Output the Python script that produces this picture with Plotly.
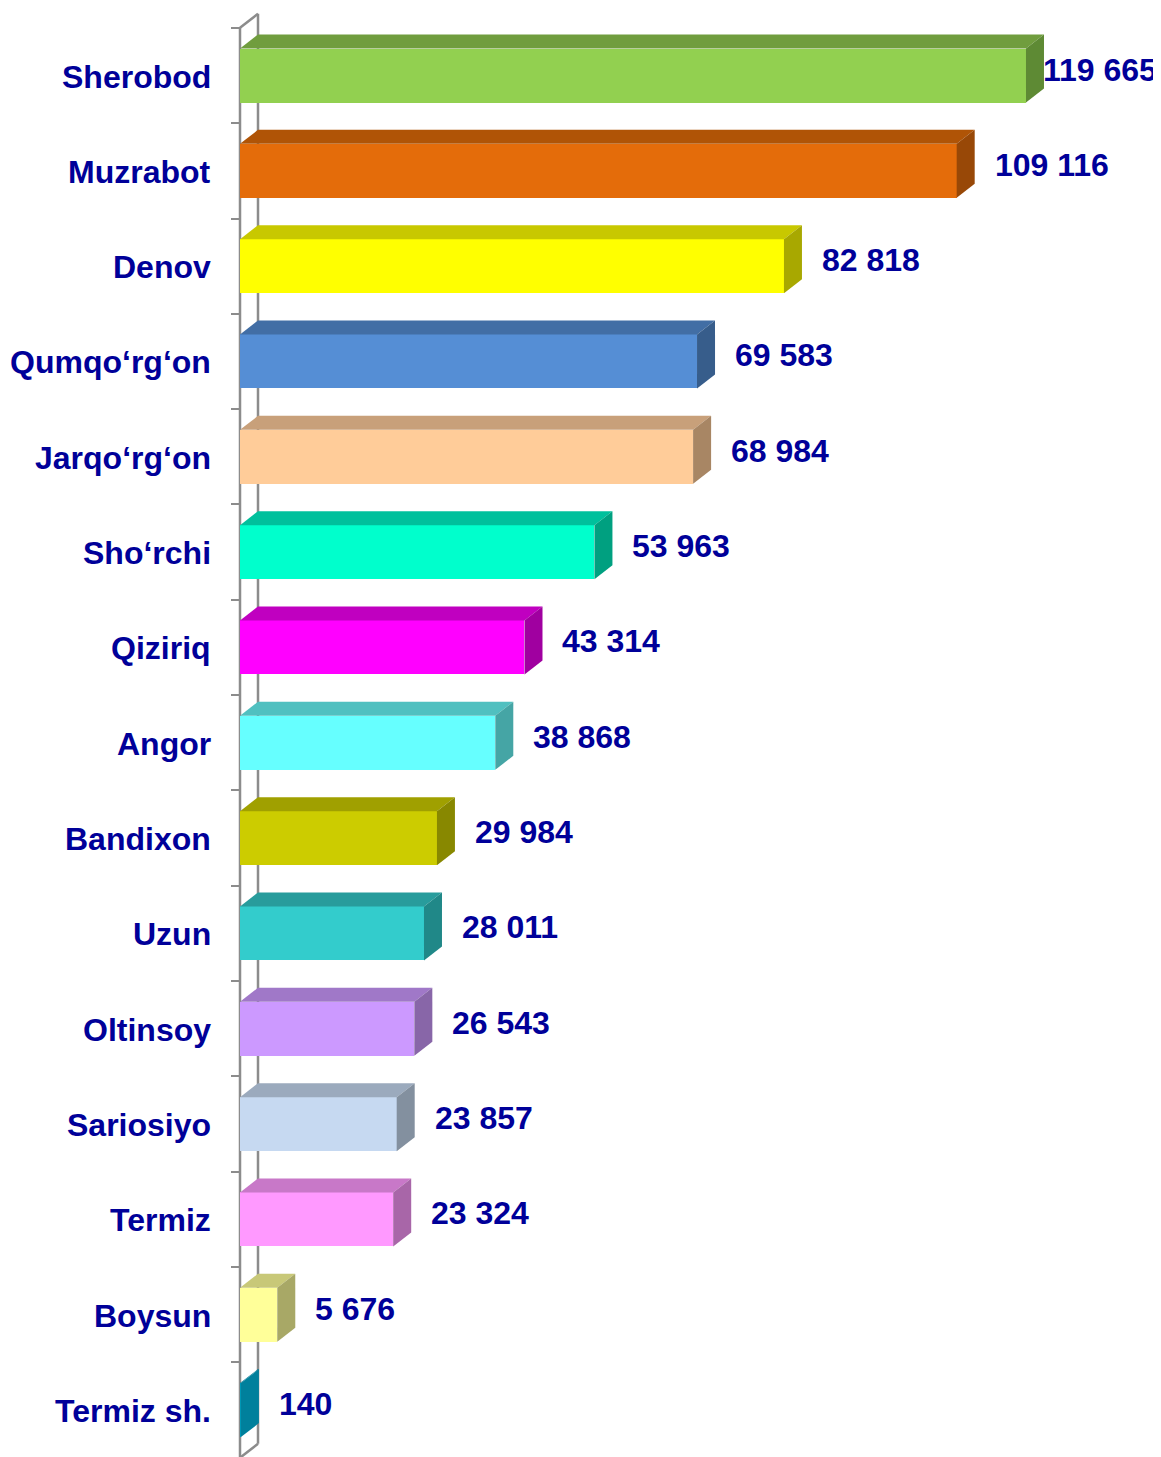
import plotly.graph_objects as go

# ---------------- data ----------------
categories = ["Sherobod", "Muzrabot", "Denov", "Qumqo‘rg‘on", "Jarqo‘rg‘on", "Sho‘rchi",
              "Qiziriq", "Angor", "Bandixon", "Uzun", "Oltinsoy", "Sariosiyo",
              "Termiz", "Boysun", "Termiz sh."]
values = [119665, 109116, 82818, 69583, 68984, 53963, 43314, 38868, 29984, 28011,
          26543, 23857, 23324, 5676, 140]

front_colors = ["#92D050", "#E46C0A", "#FFFF00", "#558ED5", "#FFCC99", "#00FFCC",
                "#FF00FF", "#66FFFF", "#CCCC00", "#33CCCC", "#CC99FF", "#C6D9F1",
                "#FF99FF", "#FFFF99", "#0099B8"]
top_colors = ["#709D3E", "#B05406", "#C8C800", "#426EA5", "#C8A07A", "#00C09C",
              "#C000C0", "#50C0C0", "#A0A000", "#289C9C", "#A078C8", "#9BAABD",
              "#C878C8", "#C8C878", "#007A94"]
side_colors = ["#5E8A34", "#984807", "#A8A800", "#375D8B", "#A88664", "#00A080",
               "#A000A0", "#45A5A5", "#888800", "#208888", "#8866A8", "#83909F",
               "#A866A8", "#A8A866", "#00809C"]

# ---------------- geometry of the pseudo-3D view ----------------
W, H = 1161, 1457
PAGE_OFF = 8                          # default body margin of the html page
UPP = 152.25                          # x data units per pixel
WALL_PX = 240 - PAGE_OFF              # pixel of x = 0 inside the figure
X_LO, X_HI = -WALL_PX * UPP, (W - WALL_PX) * UPP
PITCH, Y0 = 95.33, 75.5 - PAGE_OFF    # px per category, px of first category centre
DEPTH_PX_X, DEPTH_PX_Y = 18, 14       # depth of the 3D effect in pixels
DX = DEPTH_PX_X * UPP
DY = DEPTH_PX_Y / PITCH
HALF = 27 / PITCH                     # half bar thickness in category units
y_range = [(H - Y0) / PITCH, -Y0 / PITCH]

n = len(categories)
ys = list(range(n))

navy = "#000099"
font_family = "Liberation Sans, Arial, sans-serif"
wall_col = "#8C8C8C"

fig = go.Figure()

# front faces
fig.add_trace(go.Bar(
    x=values, y=ys, orientation="h", base=0, width=2 * HALF,
    marker=dict(color=front_colors, line=dict(width=0)),
    hoverinfo="skip", showlegend=False,
))

shapes = []
# back wall / floor lines
wl = dict(color=wall_col, width=2.5)
shapes.append(dict(type="line", xref="x", yref="y", x0=0, x1=0, y0=-0.5, y1=n - 0.5,
                   line=wl, layer="below"))
shapes.append(dict(type="line", xref="x", yref="y", x0=DX, x1=DX, y0=-0.5 - DY, y1=n - 0.5 - DY,
                   line=wl, layer="below"))
shapes.append(dict(type="line", xref="x", yref="y", x0=0, x1=DX, y0=-0.5, y1=-0.5 - DY,
                   line=wl, layer="below"))
shapes.append(dict(type="line", xref="x", yref="y", x0=0, x1=DX, y0=n - 0.5, y1=n - 0.5 - DY,
                   line=wl, layer="below"))


def poly(pts):
    return "M " + " L ".join(f"{px},{py}" for px, py in pts) + " Z"


for i, v in enumerate(values):
    y_top = i - HALF
    y_bot = i + HALF
    # top face
    shapes.append(dict(type="path", xref="x", yref="y",
                       path=poly([(0, y_top), (v, y_top), (v + DX, y_top - DY), (DX, y_top - DY)]),
                       fillcolor=top_colors[i], line=dict(width=0), layer="above"))
    # side (end) face
    shapes.append(dict(type="path", xref="x", yref="y",
                       path=poly([(v, y_top), (v + DX, y_top - DY), (v + DX, y_bot - DY), (v, y_bot)]),
                       fillcolor=side_colors[i], line=dict(width=0), layer="above"))

annotations = []
FS = 32
for i, (c, v) in enumerate(zip(categories, values)):
    annotations.append(dict(x=0, y=i, xref="x", yref="y", text=c, showarrow=False,
                            xanchor="right", xshift=-27, yshift=-1,
                            font=dict(family=font_family, size=FS, color=navy, weight=700)))
    label = f"{v:,}".replace(",", " ")
    est_w = (sum(ch.isdigit() for ch in label) * 0.556 + label.count(" ") * 0.278) * FS
    end_px = WALL_PX + v / UPP + DEPTH_PX_X
    gap = min(18, W - PAGE_OFF - 4 - end_px - est_w)
    annotations.append(dict(x=v, y=i, xref="x", yref="y", text=label, showarrow=False,
                            xanchor="left", xshift=DEPTH_PX_X + gap, yshift=6,
                            font=dict(family=font_family, size=FS, color=navy, weight=700)))

fig.update_layout(
    width=W, height=H,
    margin=dict(l=0, r=0, t=0, b=0),
    paper_bgcolor="white", plot_bgcolor="white",
    shapes=shapes, annotations=annotations,
    xaxis=dict(range=[X_LO, X_HI], visible=False, fixedrange=True),
    yaxis=dict(range=y_range, showgrid=False, zeroline=False, showline=False,
               showticklabels=False, ticks="outside", ticklen=9, tickwidth=2,
               tickcolor=wall_col, tickvals=[k - 0.5 for k in range(n + 1)],
               anchor="free", position=WALL_PX / W, fixedrange=True),
    showlegend=False,
    bargap=0,
)

fig.write_html("out.html")
